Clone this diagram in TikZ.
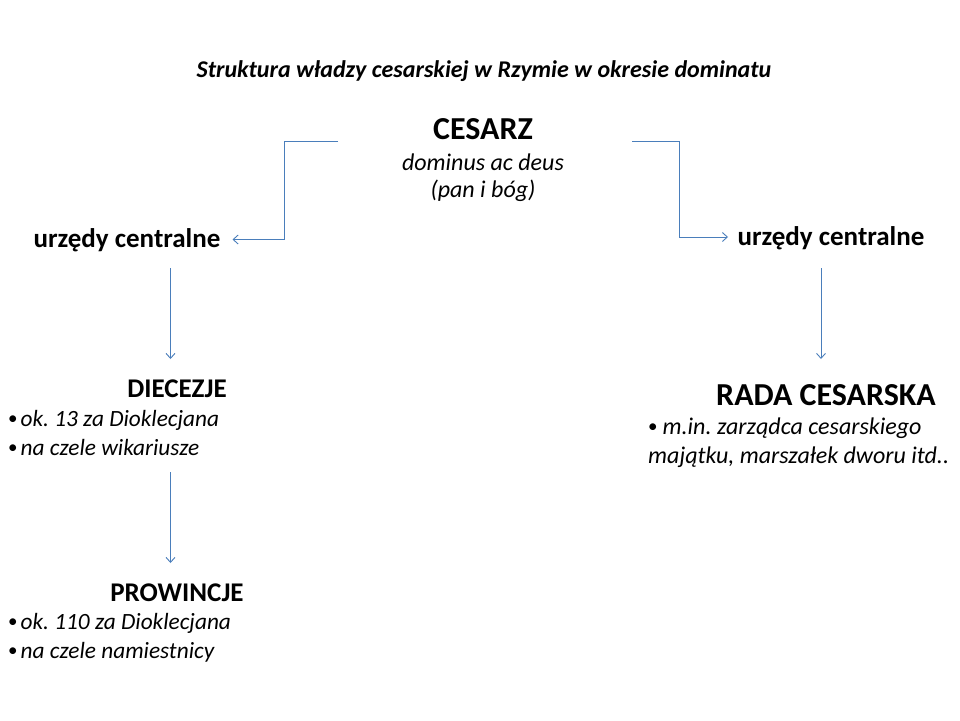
\documentclass[tikz,border=0pt]{standalone}
\usepackage{fontspec}
\setmainfont{Carlito}
\usetikzlibrary{arrows.meta}
\definecolor{conn}{RGB}{74,126,187}
\newcommand{\mybul}{\raisebox{1.5pt}{\fontsize{19}{22}\selectfont\upshape •}}
\frenchspacing
\begin{document}
\begin{tikzpicture}[x=1pt,y=-1pt,
  conn/.style={draw=conn, line width=0.9pt, -{Straight Barb[length=5pt,width=9pt,line width=0.9pt]}},
  lbl/.style={inner sep=0pt, anchor=base},
  bul/.style={inner sep=0pt, anchor=base west},
  fT/.style={font=\fontsize{24}{28}\selectfont\bfseries\itshape},
  fC/.style={font=\fontsize{32}{38}\selectfont\bfseries},
  fI/.style={font=\fontsize{24}{28}\selectfont\itshape},
  fH/.style={font=\fontsize{27}{32}\selectfont\bfseries},
  fR/.style={font=\fontsize{32}{38}\selectfont\bfseries},
  fB/.style={font=\fontsize{23.3}{27}\selectfont\itshape},
  fBR/.style={font=\fontsize{24}{28}\selectfont\itshape}]
\useasboundingbox (0,0) rectangle (960,720);
\fill[white] (0,0) rectangle (960,720);

\node[lbl,fT] (title) at (484,77) {Struktura władzy cesarskiej w Rzymie w okresie dominatu};
\node[lbl,fC] (ces) at (483,139) {CESARZ};
\node[lbl,fI] (dom) at (483,170) {dominus ac deus};
\node[lbl,fI] (pan) at (483,197) {(pan i bóg)};

\node[lbl,fH] (urzL) at (127,247) {urzędy centralne};
\node[lbl,fH] (urzR) at (831,245) {urzędy centralne};

\node[lbl,fH] (die) at (177,397) {DIECEZJE};
\node[bul,fB] (die1) at (8,426) {\mybul\hspace{3pt}ok. 13 za Dioklecjana};
\node[bul,fB] (die2) at (8,455) {\mybul\hspace{3pt}na czele wikariusze};

\node[lbl,fH] (pro) at (177,601) {PROWINCJE};
\node[bul,fB] (pro1) at (8,629) {\mybul\hspace{3pt}ok. 110 za Dioklecjana};
\node[bul,fB] (pro2) at (8,658) {\mybul\hspace{3pt}na czele namiestnicy};

\node[lbl,fR] (rada) at (826,405) {RADA CESARSKA};
\node[bul,fBR] (rada1) at (648,434) {\mybul\hspace{5pt}m.in. zarządca cesarskiego};
\node[bul,fBR] (rada2) at (648,463) {majątku, marszałek dworu itd..};

% connector end points
\coordinate (cesL) at (338,141.3);
\coordinate (cesR) at (632,141.3);
\coordinate (urzLin) at (232.5,239.5);
\coordinate (urzRin) at (728,237);
\coordinate (urzLout) at (170.5,268);
\coordinate (dieIn) at (170.5,359);
\coordinate (dieOut) at (170.5,472);
\coordinate (proIn) at (170.5,563);
\coordinate (urzRout) at (821,268);
\coordinate (radaIn) at (821,359);

\draw[conn] (cesL) -- (284.5,141.3) -- (284.5,239.5) -- (urzLin);
\draw[conn] (cesR) -- (679.5,141.3) -- (679.5,237) -- (urzRin);
\draw[conn] (urzLout) -- (dieIn);
\draw[conn] (dieOut) -- (proIn);
\draw[conn] (urzRout) -- (radaIn);
\end{tikzpicture}
\end{document}
